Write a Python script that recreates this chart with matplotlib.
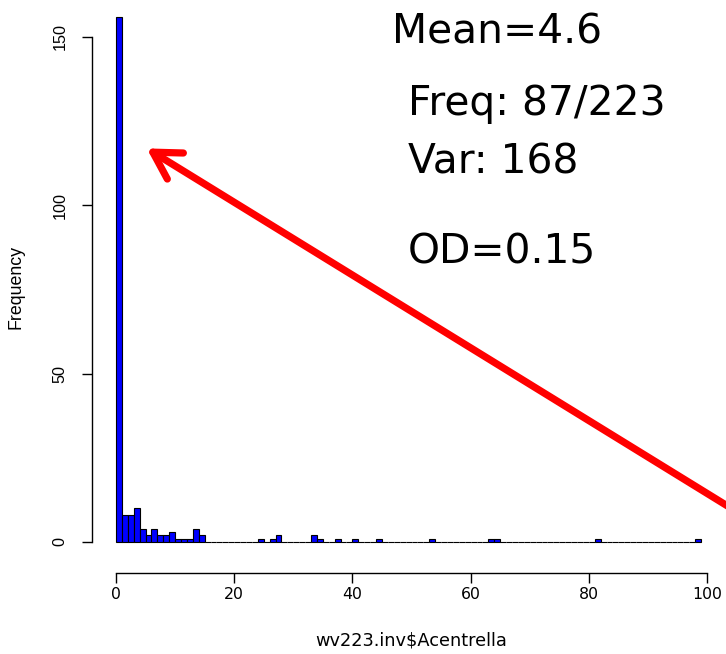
import numpy as np
import matplotlib
matplotlib.use("Agg")
import matplotlib.pyplot as plt

plt.rcParams['font.family'] = ['DejaVu Sans']

# histogram data (bins of width 1 from 0 to 99)
bin_edges = np.arange(0, 100, 1)
nonzero_bins = [0, 1, 2, 3, 4, 5, 6, 7, 8, 9, 10, 11, 12, 13, 14,
                24, 26, 27, 33, 34, 37, 40, 44, 53, 63, 64, 81, 98]
nonzero_counts = [156, 8, 8, 10, 4, 2, 4, 2, 2, 3, 1, 1, 1, 4, 2,
                  1, 1, 2, 2, 1, 1, 1, 1, 1, 1, 1, 1, 1]
xticks = [0, 20, 40, 60, 80, 100]
yticks = [0, 50, 100, 150]
annotations = ["Mean=4.6", "Freq: 87/223", "Var: 168", "OD=0.15"]
xlabel = "wv223.inv$Acentrella"
ylabel = "Frequency"
arrow_tip = (5.2, 116.9)
arrow_tail = (108.0, 5.8)

counts = np.zeros(len(bin_edges) - 1)
for b, c in zip(nonzero_bins, nonzero_counts):
    counts[b] = c

W, H = 726, 654
fig = plt.figure(figsize=(W / 100, H / 100), dpi=100)
ax = fig.add_axes([92 / W, (H - 573) / H, (724 - 92) / W, 573 / H])
px_x = 5.91
px_y = 3.367
ax.set_xlim(-24 / px_x, -24 / px_x + 632 / px_x)
ax.set_ylim(-31 / px_y, -31 / px_y + 573 / px_y)

ax.bar(bin_edges[:-1], counts, width=1, align='edge', color='#0000FF',
       edgecolor='black', linewidth=0.8)

for s in ['top', 'right']:
    ax.spines[s].set_visible(False)
ax.spines['left'].set_bounds(0, 150)
ax.spines['bottom'].set_bounds(0, 100)
ax.spines['left'].set_linewidth(1.0)
ax.spines['bottom'].set_linewidth(1.0)
ax.set_xticks(xticks)
ax.set_yticks(yticks)
ax.set_xticklabels([str(t) for t in xticks], fontsize=11.3)
ax.set_yticklabels([str(t) for t in yticks], fontsize=11.7, rotation=90,
                   va='center', family='Liberation Sans')
ax.tick_params(axis='x', length=7.5, width=1.0, pad=2.5)
ax.tick_params(axis='y', length=7.5, width=1.0, pad=10)

fig.text(411 / W, 1 - 640 / H, xlabel, ha='center', va='center', fontsize=12.8)
fig.text(16 / W, 1 - 287 / H, ylabel, ha='center', va='center', fontsize=12.8,
         rotation=90, family='Liberation Sans')

text_pos = [(392, 43), (408, 115), (408, 174), (408, 263)]
for t, (x, y) in zip(annotations, text_pos):
    fig.text(x / W, 1 - y / H, t, ha='left', va='baseline', fontsize=29.3)

ax.annotate('', xy=arrow_tip, xytext=arrow_tail, xycoords='data',
            textcoords='data', annotation_clip=False,
            arrowprops=dict(arrowstyle='->,head_length=0.95,head_width=0.55',
                            color='red', lw=5.2, mutation_scale=20,
                            capstyle='round', joinstyle='round',
                            shrinkA=0, shrinkB=0))

fig.savefig('out.png', dpi=100)
